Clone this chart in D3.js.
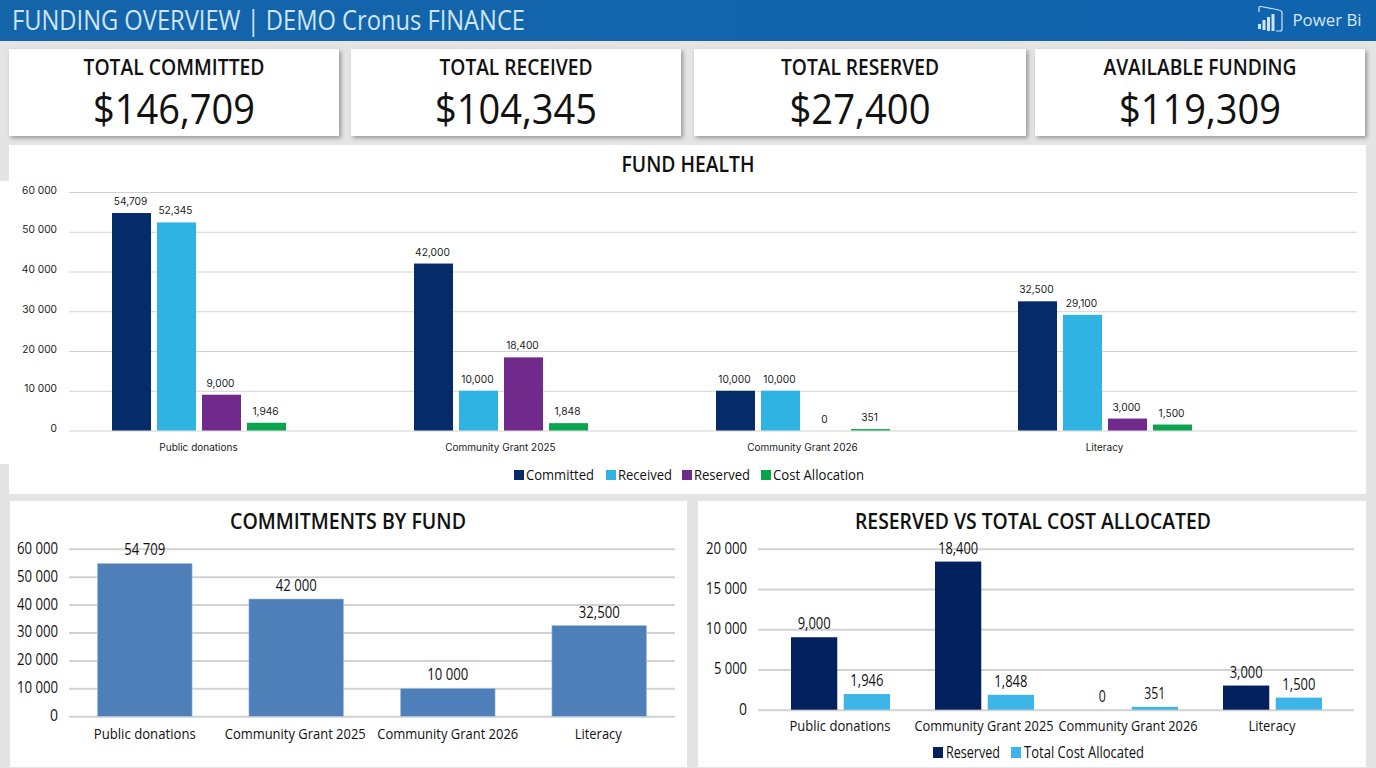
<!DOCTYPE html>
<html>
<head>
<meta charset="UTF-8">
<title>Funding Overview</title>
<style>
html, body { margin: 0; padding: 0; background: #e4e4e4; overflow: hidden; }
svg { display: block; }
text { font-family: "Open Sans", sans-serif; fill: #111; }
.inter text, text.inter { font-family: Inter, sans-serif; fill: #222; }
.axis .domain { display: none; }
.axis line { stroke: #d2d2d2; }
</style>
</head>
<body>
<svg id="dash" width="1376" height="768"></svg>
<script src="https://d3js.org/d3.v7.min.js"></script>
<script>
// data
const funds = ["Public donations", "Community Grant 2025", "Community Grant 2026", "Literacy"];
const committed = [54709, 42000, 10000, 32500];
const received = [52345, 10000, 10000, 29100];
const reserved = [9000, 18400, 0, 3000];
const costAllocation = [1946, 1848, 351, 1500];

const healthSeries = ["Committed", "Received", "Reserved", "Cost Allocation"];
const healthColors = ["#052c69", "#2fb3e2", "#6f2a8c", "#0aa34f"];
const healthTicks = [0, 10000, 20000, 30000, 40000, 50000, 60000];

const commitLabels = ["54 709", "42 000", "10 000", "32,500"];
const reservedSeries = ["Reserved", "Total Cost Allocated"];
const reservedColors = ["#03215f", "#3db5e8"];
const reservedTicks = [0, 5000, 10000, 15000, 20000];

const cardTitles = ["TOTAL COMMITTED", "TOTAL RECEIVED", "TOTAL RESERVED", "AVAILABLE FUNDING"];
const cardValues = ["$146,709", "$104,345", "$27,400", "$119,309"];

const spaced = d => d3.format(",")(d).replace(/,/g, " ");
const comma = d3.format(",");

let svg = d3.select("#dash");

let defs = svg.append("defs");
defs.append("filter").attr("id", "shadow").attr("x", "-5%").attr("y", "-10%").attr("width", "110%").attr("height", "125%")
  .append("feDropShadow").attr("dx", 2).attr("dy", 2).attr("stdDeviation", 2).attr("flood-color", "#000").attr("flood-opacity", 0.35);
let grad = defs.append("linearGradient").attr("id", "head").attr("x1", 0).attr("x2", 1);
grad.append("stop").attr("offset", 0).attr("stop-color", "#1464aa");
grad.append("stop").attr("offset", 1).attr("stop-color", "#0f64ad");

// text helper, width squeezes the glyphs to the measured width
function label(g, x, y, str, size, width, weight) {
  let t = g.append("text").attr("x", x).attr("y", y - 1).attr("text-anchor", "middle")
    .attr("dominant-baseline", "central").attr("font-size", size).attr("font-weight", weight || 400).text(str);
  if (width) t.attr("textLength", width).attr("lengthAdjust", "spacingAndGlyphs");
  return t;
}

// header
svg.append("rect").attr("width", 1376).attr("height", 41).attr("fill", "url(#head)");
label(svg, 268.5, 20.5, "FUNDING OVERVIEW | DEMO Cronus FINANCE", 27, 513).style("fill", "#cfe5f6");
let logo = svg.append("g").attr("fill", "none").attr("stroke", "#cfe5f6");
logo.append("path").attr("stroke-width", 1.2).attr("d", "M1259 12 V8 Q1259 6 1261 6.5 L1279 10 Q1282 10.5 1282 13 V29 Q1282 31 1280 31 H1276");
logo.selectAll("line").data([[1259.5, 24, 29], [1264, 20, 30], [1268.5, 17, 31], [1273, 14, 31]]).enter().append("line")
  .attr("x1", d => d[0]).attr("x2", d => d[0]).attr("y1", d => d[1]).attr("y2", d => d[2]).attr("stroke-width", 3);
label(svg, 1327, 20.5, "Power Bi", 16, 69).style("fill", "#d5e8f7");

// kpi cards
const cardX = [9, 351, 694, 1035];
const cardW = [330, 330, 332, 330];
const titleW = [181, 153, 158, 193];
const valueW = [162, 162, 141, 162];
cardTitles.forEach((c, i) => {
  svg.append("rect").attr("x", cardX[i]).attr("y", 49).attr("width", cardW[i]).attr("height", 87)
    .attr("fill", "#fff").attr("filter", "url(#shadow)");
  label(svg, cardX[i] + cardW[i] / 2, 68, c, 21, titleW[i], 600);
  label(svg, cardX[i] + cardW[i] / 2, 108.5, cardValues[i], 42, valueW[i]);
});

// panels
svg.append("rect").attr("x", 9).attr("y", 145).attr("width", 1357).attr("height", 349).attr("fill", "#fff");
svg.append("rect").attr("x", 0).attr("y", 181).attr("width", 40).attr("height", 283).attr("fill", "#fff");
svg.append("rect").attr("x", 10).attr("y", 501).attr("width", 677).attr("height", 266).attr("fill", "#fff");
svg.append("rect").attr("x", 698).attr("y", 501).attr("width", 668).attr("height", 266).attr("fill", "#fff");

label(svg, 688, 165, "FUND HEALTH", 21, 133, 600);
label(svg, 348, 522, "COMMITMENTS BY FUND", 21, 236, 600);
label(svg, 1033, 522, "RESERVED VS TOTAL COST ALLOCATED", 21, 356, 600);

// FUND HEALTH
{
  let x0 = d3.scaleBand().domain(funds).range([48, 1256]);
  let x1 = d3.scaleBand().domain(healthSeries).range([64, 238]).paddingInner(6 / 45);
  let y = d3.scaleLinear().domain([0, 60000]).range([430.5, 192]);
  let values = [committed, received, reserved, costAllocation];

  let axis = svg.append("g").attr("class", "axis inter").attr("transform", "translate(69,0)")
    .call(d3.axisLeft(y).tickValues(healthTicks).tickSize(-1288).tickPadding(12).tickFormat(spaced));
  axis.selectAll("text").attr("font-size", 10.2).attr("dy", "0.1em");
  axis.selectAll("line").attr("stroke-width", 1);

  healthSeries.forEach((s, k) => {
    let g = svg.append("g");
    g.selectAll("rect").data(funds).enter().append("rect")
      .attr("x", d => x0(d) + x1(s))
      .attr("y", (d, i) => y(values[k][i]))
      .attr("width", x1.bandwidth())
      .attr("height", (d, i) => y(0) - y(values[k][i]))
      .attr("fill", healthColors[k]);
    g.selectAll("text").data(funds).enter().append("text").attr("class", "inter")
      .attr("x", d => x0(d) + x1(s) + x1.bandwidth() / 2 - 1)
      .attr("y", (d, i) => y(values[k][i]) - 12)
      .attr("text-anchor", "middle").attr("dominant-baseline", "central").attr("font-size", 10.2)
      .text((d, i) => comma(values[k][i]));
  });

  svg.append("g").selectAll("text").data(funds).enter().append("text").attr("class", "inter")
    .attr("x", d => x0(d) + x0.bandwidth() / 2 - 0.5).attr("y", 447)
    .attr("text-anchor", "middle").attr("dominant-baseline", "central").attr("font-size", 10).text(d => d);

  const legendX = [514, 606, 682, 761];
  const legendW = [68, 54, 56, 91];
  healthSeries.forEach((s, k) => {
    svg.append("rect").attr("x", legendX[k]).attr("y", 470).attr("width", 10).attr("height", 10).attr("fill", healthColors[k]);
    label(svg, legendX[k] + 12 + legendW[k] / 2, 475, s, 15, legendW[k]);
  });
}

// COMMITMENTS BY FUND
{
  let x = d3.scaleBand().domain(funds).range([69, 675]).paddingInner(0.375).paddingOuter(0.1875);
  let y = d3.scaleLinear().domain([0, 60000]).range([716.3, 548.7]);

  let axis = svg.append("g").attr("class", "axis").attr("transform", "translate(69,0)")
    .call(d3.axisLeft(y).tickValues(healthTicks).tickSize(-606).tickPadding(11).tickFormat(spaced));
  axis.selectAll("line").attr("stroke-width", 2).attr("stroke", "#dadada");
  axis.selectAll("text").attr("font-size", 16).attr("dy", "0.28em").attr("textLength", d => d ? 41 : 8).attr("lengthAdjust", "spacingAndGlyphs");

  svg.append("g").selectAll("rect").data(funds).enter().append("rect")
    .attr("x", d => x(d)).attr("y", (d, i) => y(committed[i]))
    .attr("width", x.bandwidth()).attr("height", (d, i) => y(0) - y(committed[i]))
    .attr("fill", "#4f7fb9").attr("stroke", "#a9c6e6").attr("stroke-width", 0.6);

  funds.forEach((d, i) => {
    label(svg, x(d) + x.bandwidth() / 2, y(committed[i]) - 13, commitLabels[i], 16, 41);
    label(svg, x(d) + x.bandwidth() / 2 + (i == 1 ? -1 : i == 3 ? -1 : 0), 734.5, d, 14.5, [102, 141, 141, 47][i]);
  });
}

// RESERVED VS TOTAL COST ALLOCATED
{
  let x0 = d3.scaleBand().domain(funds).range([768, 1344]);
  let x1 = d3.scaleBand().domain(reservedSeries).range([23, 122]).paddingInner(6.5 / 53);
  let y = d3.scaleLinear().domain([0, 20000]).range([709.7, 548.7]);
  let values = [reserved, costAllocation];

  let axis = svg.append("g").attr("class", "axis").attr("transform", "translate(758,0)")
    .call(d3.axisLeft(y).tickValues(reservedTicks).tickSize(-596).tickPadding(11).tickFormat(spaced));
  axis.selectAll("line").attr("stroke-width", 2).attr("stroke", "#dadada");
  axis.selectAll("text").attr("font-size", 16).attr("dy", "0.28em").attr("textLength", d => d == 0 ? 8 : d == 5000 ? 33 : 41).attr("lengthAdjust", "spacingAndGlyphs");

  reservedSeries.forEach((s, k) => {
    svg.append("g").selectAll("rect").data(funds).enter().append("rect")
      .attr("x", d => x0(d) + x1(s)).attr("y", (d, i) => y(values[k][i]))
      .attr("width", x1.bandwidth()).attr("height", (d, i) => y(0) - y(values[k][i]))
      .attr("fill", reservedColors[k]);
    funds.forEach((d, i) => {
      let str = comma(values[k][i]);
      label(svg, x0(d) + x1(s) + x1.bandwidth() / 2, y(values[k][i]) - 13, str, 16, str.length > 5 ? 40 : str.length == 5 ? 33 : str.length * 7);
    });
  });

  funds.forEach((d, i) => {
    label(svg, x0(d) + x0.bandwidth() / 2, 726, d, 14.5, [101, 139, 139, 47][i]);
  });

  const legendX = [933, 1011];
  const legendW = [54, 120];
  reservedSeries.forEach((s, k) => {
    svg.append("rect").attr("x", legendX[k]).attr("y", 747).attr("width", 10).attr("height", 11).attr("fill", reservedColors[k]);
    label(svg, legendX[k] + 13 + legendW[k] / 2, 752.5, s, 16, legendW[k]);
  });
}
</script>
</body>
</html>
